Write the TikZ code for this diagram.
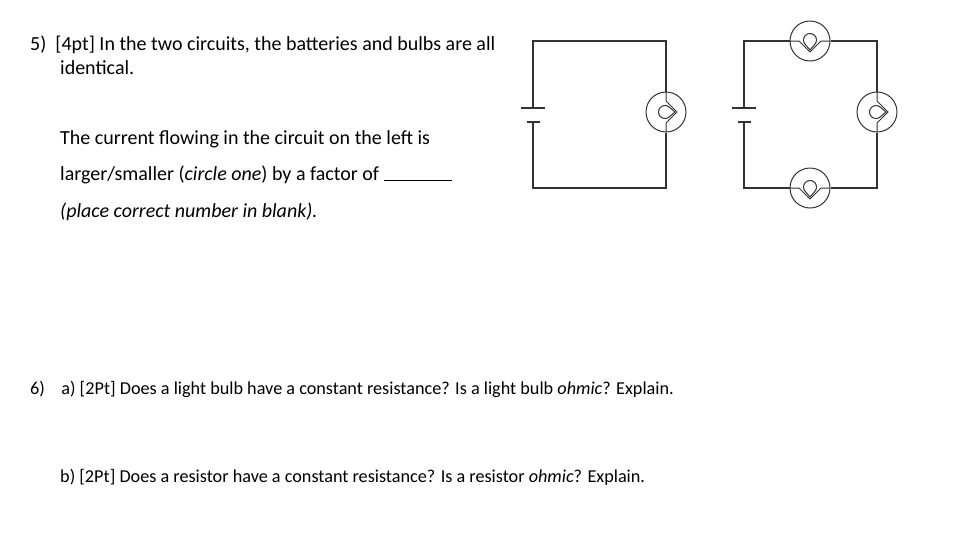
\documentclass[tikz,border=0pt]{standalone}
\usepackage{fontspec}
\setmainfont{Carlito}
\begin{document}
\begin{tikzpicture}[x=1pt,y=-1pt,
  txt/.style={anchor=base west,inner sep=0pt,font=\fontsize{20}{24}\selectfont},
  txts/.style={anchor=base west,inner sep=0pt,font=\fontsize{18.2}{22}\selectfont},
  wire/.style={draw=black!80,line width=1.1pt},
  bulbc/.style={circle,draw=black!80,line width=1pt,minimum size=40pt,inner sep=0pt}]
\useasboundingbox (0,0) rectangle (970,555);
\node[txt] (t1) at (30,50) {5)\ \ [4pt] In the two circuits, the batteries and bulbs are all};
\node[txt] (t2) at (60,74) {identical.};
\node[txt] (t3) at (60,144) {The current flowing in the circuit on the left is};
\node[txt] (t4) at (60,180) {larger/smaller (\textit{circle one}) by a factor of \rule[-1pt]{68pt}{0.6pt}};
\node[txt] (t5) at (60,217) {\textit{(place correct number in blank).}};
\node[txts] (t6) at (30,394) {6)\ \ \ \ a) [2Pt] Does a light bulb have a constant resistance? Is a light bulb \textit{ohmic}? Explain.};
\node[txts] (t7) at (60,482) {b) [2Pt] Does a resistor have a constant resistance? Is a resistor \textit{ohmic}? Explain.};
% left circuit
\coordinate (la) at (533,41); \coordinate (lb) at (666,41);
\coordinate (lc) at (666,188); \coordinate (ld) at (533,188);
\node[bulbc] (b1) at (666,112) {};
\draw[wire] (533,108) -- (la) -- (lb) -- (b1.north);
\draw[wire] (b1.south) -- (lc) -- (ld) -- (533,122);
\draw[wire] (521,108) -- (545,108);
\draw[wire] (527,122) -- (540,122);
% right circuit
\coordinate (ra) at (744,41); \coordinate (rb) at (877,41);
\coordinate (rc) at (877,188); \coordinate (rd) at (744,188);
\node[bulbc] (b2) at (810,41) {};
\node[bulbc] (b3) at (877,112) {};
\node[bulbc] (b4) at (810,188) {};
\draw[wire] (744,108) -- (ra) -- (b2.west);
\draw[wire] (b2.east) -- (rb) -- (b3.north);
\draw[wire] (b3.south) -- (rc) -- (b4.east);
\draw[wire] (b4.west) -- (rd) -- (744,122);
\draw[wire] (732,108) -- (756,108);
\draw[wire] (738,122) -- (751,122);
% filaments
\foreach \b/\r in {b1/0,b2/-90,b3/0,b4/-90}{
  \begin{scope}[shift={(\b.center)},rotate=\r]
    \draw[draw=black!80,line width=1pt] (0,-20) -- (0,-11) -- (11,0) -- (0,11) -- (0,20);
    \draw[draw=black!80,line width=1pt] (-1,0) ++(4.6,4.6) arc[start angle=45,end angle=315,radius=6.5] -- (9,0) -- cycle;
  \end{scope}}
\end{tikzpicture}
\end{document}
